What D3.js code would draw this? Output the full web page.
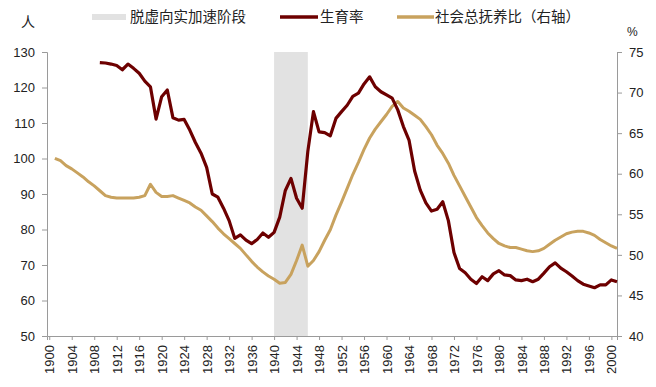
<!DOCTYPE html>
<html>
<head>
<meta charset="utf-8">
<script src="https://cdn.jsdelivr.net/npm/d3@7"></script>
<style>
  body { margin: 0; background: #fff; }
  text { font-family: "Liberation Sans", Arial, sans-serif; }
  .cjk { font-family: "Noto Sans CJK SC", sans-serif; }
</style>
</head>
<body>
<svg id="chart"></svg>
<script>
const svg_width = 656;
const svg_height = 387;

// 生育率（左轴，人），1909-2001
const birthYears = d3.range(1909, 2002);
const birthRate = [
  127.0, 126.9, 126.6, 126.2, 125.0, 126.6, 125.4, 124.0, 121.8, 120.2,
  111.1, 117.4, 119.3, 111.5, 110.8, 111.0, 108.0, 104.5, 101.5, 97.5,
  90.0, 89.1, 86.0, 82.5, 77.5, 78.5, 77.0, 76.0, 77.2, 79.0,
  77.8, 79.2, 83.5, 91.0, 94.4, 88.8, 86.0, 102.0, 113.2, 107.5,
  107.3, 106.4, 111.3, 113.2, 115.0, 117.5, 118.4, 121.0, 123.0, 120.2,
  118.8, 117.9, 117.0, 113.7, 109.0, 105.2, 96.5, 91.1, 87.5, 85.2,
  85.7, 87.8, 82.5, 73.5, 69.0, 67.8, 66.0, 64.8, 66.7, 65.6,
  67.5, 68.4, 67.2, 67.0, 65.8, 65.6, 66.0, 65.3, 66.0, 67.7,
  69.5, 70.6, 69.1, 68.1, 66.9, 65.6, 64.6, 64.1, 63.6, 64.4,
  64.4, 65.8, 65.3
];

// 社会总抚养比（右轴，%），1901-2001
const depYears = d3.range(1901, 2002);
const depRatio = [
  61.9, 61.6, 61.0, 60.6, 60.1, 59.6, 59.0, 58.5, 57.9, 57.3,
  57.1, 57.0, 57.0, 57.0, 57.0, 57.1, 57.3, 58.7, 57.7, 57.2,
  57.2, 57.3, 57.0, 56.7, 56.4, 55.9, 55.5, 54.8, 54.1, 53.3,
  52.6, 52.0, 51.4, 50.8, 50.0, 49.2, 48.5, 47.9, 47.4, 47.0,
  46.5, 46.6, 47.6, 49.3, 51.2, 48.6, 49.3, 50.4, 51.8, 53.1,
  54.9, 56.5, 58.2, 59.9, 61.4, 63.0, 64.4, 65.5, 66.4, 67.3,
  68.3, 68.9, 68.1, 67.7, 67.2, 66.7, 65.8, 64.8, 63.5, 62.5,
  61.3, 59.8, 58.5, 57.2, 55.9, 54.6, 53.6, 52.7, 52.0, 51.4,
  51.1, 50.9, 50.9, 50.7, 50.5, 50.4, 50.5, 50.8, 51.3, 51.8,
  52.2, 52.6, 52.8, 52.9, 52.9, 52.7, 52.4, 51.9, 51.5, 51.1,
  50.8
];

// 脱虚向实加速阶段
const shadeRange = [1940, 1946];

const xTicks = d3.range(1900, 2001, 4);
const leftTicks = d3.range(50, 131, 10);
const rightTicks = d3.range(40, 76, 5);

const red = '#6d0000';
const tan = '#c8a25e';
const shadeColor = '#e2e2e2';
const axisColor = '#9a9a9a';

const svg = d3.select('#chart')
  .attr('width', svg_width)
  .attr('height', svg_height);

const x = d3.scaleLinear().domain([1899.6, 2001]).range([47, 617]);
const yL = d3.scaleLinear().domain([50, 130]).range([336, 52]);
const yR = d3.scaleLinear().domain([40, 75]).range([336, 52]);

// 阴影区间
svg.append('rect')
  .attr('x', x(shadeRange[0]))
  .attr('y', yL(130))
  .attr('width', x(shadeRange[1]) - x(shadeRange[0]))
  .attr('height', yL(50) - yL(130))
  .attr('fill', shadeColor);

// 坐标轴
const axisL = svg.append('g').attr('transform', `translate(${x.range()[0]},0)`)
  .call(d3.axisLeft(yL).tickValues(leftTicks).tickSize(5).tickPadding(7));
const axisR = svg.append('g').attr('transform', `translate(${x.range()[1]},0)`)
  .call(d3.axisRight(yR).tickValues(rightTicks).tickSize(5).tickPadding(7));
const axisB = svg.append('g').attr('transform', `translate(0,${yL(50)})`)
  .call(d3.axisBottom(x).tickValues(xTicks).tickFormat(d3.format('d')).tickSize(4));

[axisL, axisR, axisB].forEach(a => {
  a.select('.domain').attr('stroke', axisColor);
  a.selectAll('.tick line').attr('stroke', axisColor);
  a.selectAll('.tick text').attr('fill', '#222').style('font-size', '13px')
    .style('font-family', '"Liberation Sans", Arial, sans-serif');
});

axisB.selectAll('.tick text')
  .attr('transform', 'rotate(-90)')
  .attr('text-anchor', 'end')
  .attr('x', -9)
  .attr('y', 0)
  .attr('dy', '0.35em');

// 折线
const lineL = d3.line().x(d => x(d[0])).y(d => yL(d[1]));
const lineR = d3.line().x(d => x(d[0])).y(d => yR(d[1]));

svg.append('path')
  .datum(depYears.map((yr, i) => [yr, depRatio[i]]))
  .attr('d', lineR)
  .attr('fill', 'none')
  .attr('stroke', tan)
  .attr('stroke-width', 3)
  .attr('stroke-linejoin', 'round');

svg.append('path')
  .datum(birthYears.map((yr, i) => [yr, birthRate[i]]))
  .attr('d', lineL)
  .attr('fill', 'none')
  .attr('stroke', red)
  .attr('stroke-width', 3.2)
  .attr('stroke-linejoin', 'round');

// 单位
svg.append('text').attr('class', 'cjk').attr('x', 21).attr('y', 27)
  .style('font-size', '14px').attr('fill', '#222').text('人');
svg.append('text').attr('x', 627).attr('y', 36)
  .style('font-size', '12px').attr('fill', '#222').text('%');

// 图例
const legend = svg.append('g').attr('transform', 'translate(0,17)');
legend.append('rect').attr('x', 92).attr('y', -3).attr('width', 34).attr('height', 6).attr('fill', shadeColor);
legend.append('text').attr('class', 'cjk').attr('x', 130).attr('y', 0).attr('dy', '0.35em')
  .style('font-size', '14.5px').attr('fill', '#222').text('脱虚向实加速阶段');
legend.append('line').attr('x1', 280).attr('x2', 318).attr('y1', 0).attr('y2', 0)
  .attr('stroke', red).attr('stroke-width', 3.5);
legend.append('text').attr('class', 'cjk').attr('x', 320).attr('y', 0).attr('dy', '0.35em')
  .style('font-size', '14.5px').attr('fill', '#222').text('生育率');
legend.append('line').attr('x1', 397).attr('x2', 434).attr('y1', 0).attr('y2', 0)
  .attr('stroke', tan).attr('stroke-width', 3.5);
legend.append('text').attr('class', 'cjk').attr('x', 435).attr('y', 0).attr('dy', '0.35em')
  .style('font-size', '14.5px').attr('fill', '#222').text('社会总抚养比（右轴）');
</script>
</body>
</html>
